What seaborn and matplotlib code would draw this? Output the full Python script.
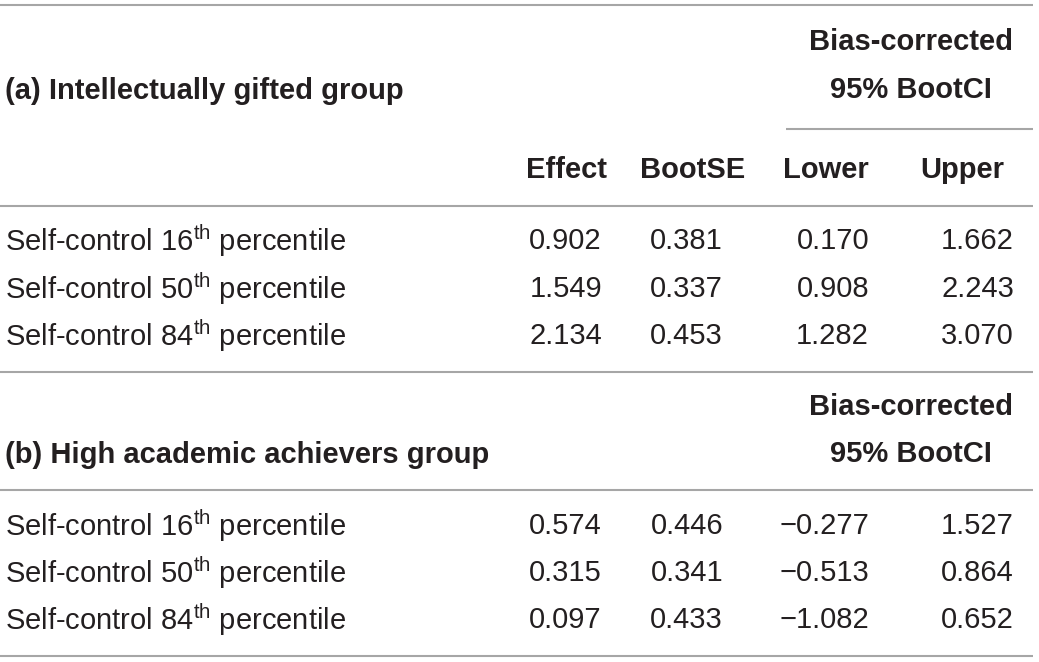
import matplotlib
matplotlib.use("Agg")
import matplotlib.pyplot as plt
import seaborn as sns

sns.set_theme(style="white")
plt.rcParams['font.family'] = ['Liberation Sans', 'DejaVu Sans']
plt.rcParams['mathtext.fontset'] = 'custom'
plt.rcParams['mathtext.rm'] = 'Liberation Sans'

# ---- data ----
group_titles = ["(a) Intellectually gifted group", "(b) High academic achievers group"]
row_labels = ["Self-control 16$^{\\mathrm{th}}$ percentile",
              "Self-control 50$^{\\mathrm{th}}$ percentile",
              "Self-control 84$^{\\mathrm{th}}$ percentile"]
col_headers = ["Effect", "BootSE", "Lower", "Upper"]
ci_header = ["Bias-corrected", "95% BootCI"]
effect_a = ["0.902", "1.549", "2.134"]
bootse_a = ["0.381", "0.337", "0.453"]
lower_a = ["0.170", "0.908", "1.282"]
upper_a = ["1.662", "2.243", "3.070"]
effect_b = ["0.574", "0.315", "0.097"]
bootse_b = ["0.446", "0.341", "0.433"]
lower_b = ["\u22120.277", "\u22120.513", "\u22121.082"]
upper_b = ["1.527", "0.864", "0.652"]

W, H = 1039, 662
fig = plt.figure(figsize=(W / 100, H / 100), dpi=100)
ax = fig.add_axes([0, 0, 1, 1])
ax.set_xlim(0, W)
ax.set_ylim(H, 0)
ax.axis("off")

txt = "#231f20"
line_c = "#a6a6a6"
fs = 21

def hline(y, x0=0, x1=1033):
    ax.plot([x0, x1], [y, y], color=line_c, lw=1.5, solid_capstyle="butt")

col_right = [602, 723, 869, 1014]
hdr_centers = [566, 693, 826, 962]
ci_center = 911

def block(title, y_title, y_bias, rows_y, cols, show_hdr, hdr_y=None):
    ax.text(5, y_title + 1, title, fontsize=fs, fontweight="bold", color=txt, va="center", ha="left")
    ax.text(ci_center, y_bias, ci_header[0], fontsize=fs, fontweight="bold", color=txt, va="center", ha="center")
    ax.text(ci_center, y_title, ci_header[1], fontsize=fs, fontweight="bold", color=txt, va="center", ha="center")
    if show_hdr:
        for c, h in zip(hdr_centers, col_headers):
            ax.text(c, hdr_y, h, fontsize=fs, fontweight="bold", color=txt, va="center", ha="center")
    for i, y in enumerate(rows_y):
        ax.text(5, y, row_labels[i], fontsize=fs, color=txt, va="center", ha="left")
        for xr, col in zip(col_right, cols):
            ax.text(xr, y, col[i], fontsize=fs, color=txt, va="center", ha="right")

hline(5)
block(group_titles[0], 90, 42, [241, 289, 336], [effect_a, bootse_a, lower_a, upper_a], True, 170)
hline(129, 786, 1033)
hline(206)
hline(372)
block(group_titles[1], 454, 407, [526, 573, 620], [effect_b, bootse_b, lower_b, upper_b], False)
hline(490)
hline(656)

fig.savefig("out.png", dpi=100, facecolor="white")
